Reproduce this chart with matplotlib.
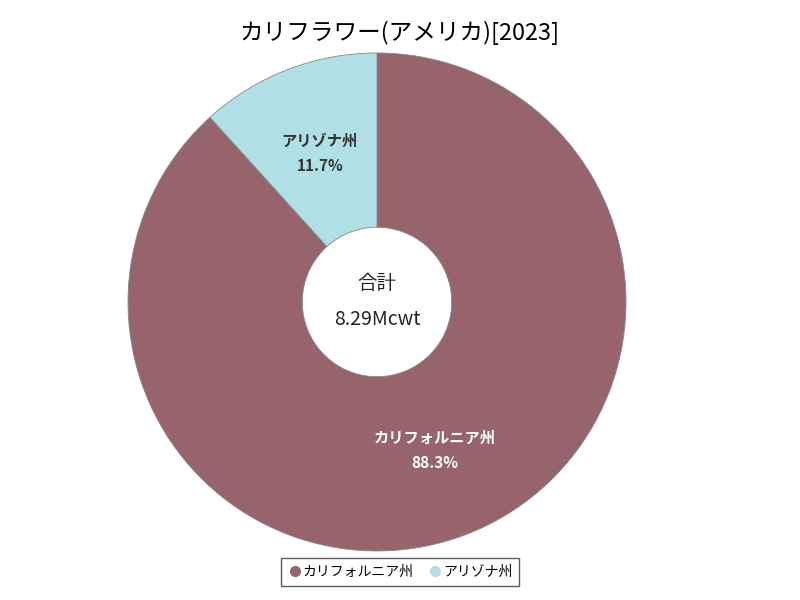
import matplotlib.pyplot as plt
import numpy as np

plt.rcParams['font.family'] = ['Noto Sans CJK JP', 'DejaVu Sans']

# Cauliflower production by state, 2023 (Mcwt)
states = ['カリフォルニア州', 'アリゾナ州']
values = [7.32, 0.97]
colors = ['#97646c', '#b0dfe5']
label_colors = ['white', '#333333']
title = 'カリフラワー(アメリカ)[2023]'
unit = 'Mcwt'

total = sum(values)

fig = plt.figure(figsize=(8, 6), dpi=100)
ax = fig.add_axes([0.16, 0.0817, 0.6225, 0.83])

wedges, _ = ax.pie(values, colors=colors, startangle=90, counterclock=False,
                   radius=1.0, wedgeprops=dict(width=0.7, edgecolor='#888888', linewidth=0.6))
ax.set_xlim(-1, 1)
ax.set_ylim(-1, 1)
ax.set_aspect('equal')

# labels inside each slice
for w, name, v, c in zip(wedges, states, values, label_colors):
    mid = np.deg2rad((w.theta1 + w.theta2) / 2)
    r = 0.64
    ax.text(r * np.cos(mid), r * np.sin(mid), f'{name}\n{v / total * 100:.1f}%',
            ha='center', va='center', fontsize=11, fontweight='bold', color=c,
            linespacing=1.7)

# total in the hole
ax.text(0, 0.075, '合計', ha='center', va='center', fontsize=14, color='#222222')
ax.text(0, -0.07, f'{total:.2f}{unit}', ha='center', va='center', fontsize=14, color='#222222')

fig.suptitle(title, y=0.965, fontsize=17)

handles = [plt.Line2D([], [], marker='o', linestyle='', markersize=7,
                      markerfacecolor=c, markeredgecolor=c) for c in colors]
leg = fig.legend(handles, states, loc='lower center', bbox_to_anchor=(0.5, 0.012), ncol=2,
                 fontsize=10, frameon=True, fancybox=False, handletextpad=0.1,
                 columnspacing=1.0, borderpad=0.5, handlelength=1.0)
leg.get_frame().set_edgecolor('#333333')
leg.get_frame().set_linewidth(1.0)

fig.savefig('out.png', dpi=100)
